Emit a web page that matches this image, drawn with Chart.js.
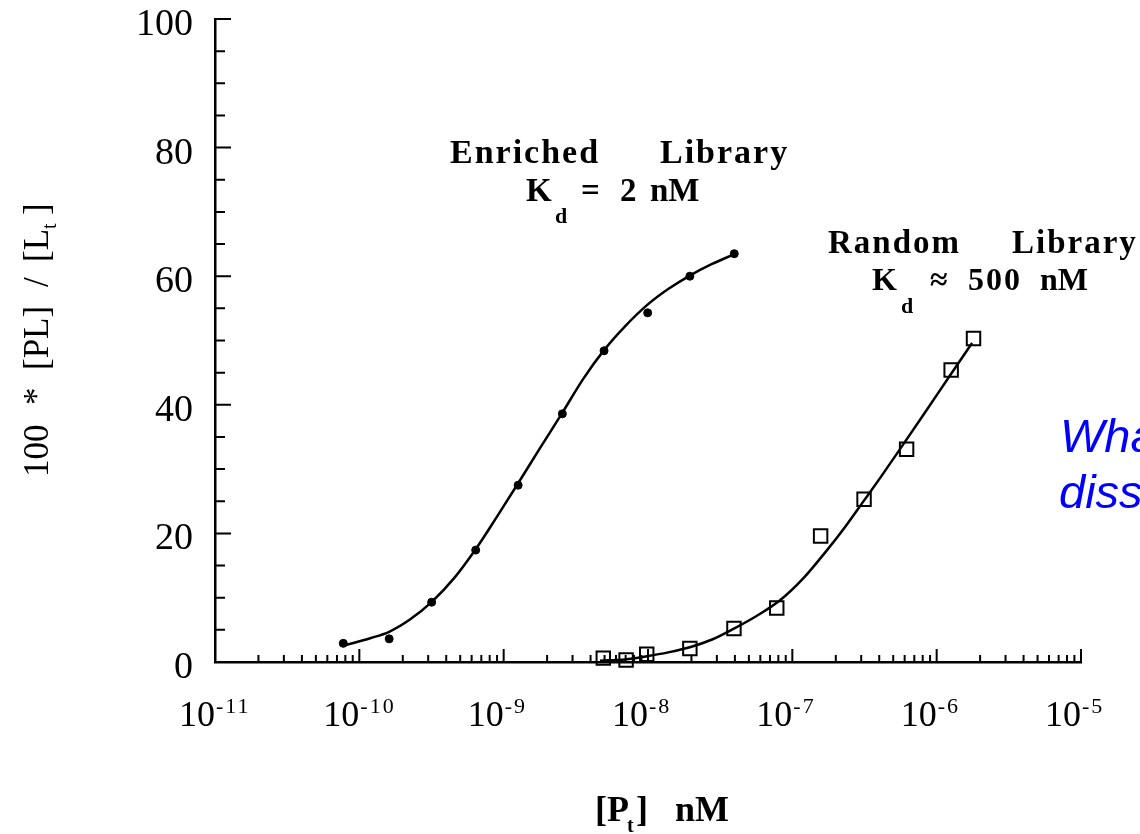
<!DOCTYPE html>
<html><head><meta charset="utf-8">
<script src="https://cdn.jsdelivr.net/npm/chart.js@4.4.1/dist/chart.umd.min.js"></script>
<style>html,body{margin:0;padding:0;background:#fff;}canvas{display:block;}</style>
</head><body>
<canvas id="c" width="1140" height="834"></canvas>
<script>
// ---- data ----
const xTickValues = [1e-11, 1e-10, 1e-9, 1e-8, 1e-7, 1e-6, 1e-5];
const xTickExponents = ['-11', '-10', '-9', '-8', '-7', '-6', '-5'];
const yTickValues = [0, 20, 40, 60, 80, 100];

const enrichedX = [7.74e-11, 1.61e-10, 3.17e-10, 6.40e-10, 1.26e-9, 2.55e-9, 4.96e-9, 9.95e-9, 1.95e-8, 3.96e-8];
const enrichedY = [2.9, 3.6, 9.3, 17.4, 27.5, 38.6, 48.4, 54.3, 60.0, 63.5];

const enrichedFitX = [7.96e-11, 1.19e-10, 1.61e-10, 2.24e-10, 3.19e-10, 4.60e-10, 6.43e-10, 8.99e-10, 1.26e-9, 1.79e-9, 2.54e-9, 3.55e-9, 4.96e-9, 6.93e-9, 9.84e-9, 1.38e-8, 1.95e-8, 2.78e-8, 3.94e-8];
const enrichedFitY = [2.6, 3.7, 4.7, 6.6, 9.4, 13.2, 17.6, 22.6, 27.8, 33.3, 38.7, 44.0, 48.5, 52.2, 55.5, 58.0, 60.1, 61.9, 63.4];

const randomX = [4.90e-9, 7.05e-9, 9.80e-9, 1.95e-8, 3.94e-8, 7.80e-8, 1.57e-7, 3.14e-7, 6.19e-7, 1.26e-6, 1.80e-6];
const randomY = [0.6, 0.3, 1.2, 2.1, 5.2, 8.4, 19.6, 25.3, 33.1, 45.4, 50.3];

const randomFitX = [4.65e-9, 6.93e-9, 9.84e-9, 1.38e-8, 1.95e-8, 2.78e-8, 3.94e-8, 5.69e-8, 8.22e-8, 1.19e-7, 1.74e-7, 2.32e-7, 3.09e-7, 4.05e-7, 5.57e-7, 8.30e-7, 1.24e-6, 1.76e-6];
const randomFitY = [0.2, 0.4, 0.9, 1.5, 2.3, 3.5, 5.2, 7.2, 9.6, 13.0, 17.4, 21.0, 24.9, 28.6, 33.1, 38.8, 44.6, 49.6];

const SERIF = '"Liberation Serif", "DejaVu Serif", serif';
function pts(xs, ys){ return xs.map((v, i) => ({x: v, y: ys[i]})); }

const tickPlugin = {
  id: 'inwardTicks',
  afterDraw(chart){
    const {ctx, chartArea: a, scales: {x, y}} = chart;
    ctx.save();
    ctx.strokeStyle = '#000';
    ctx.lineWidth = 2;
    ctx.beginPath();
    for (let v = 0; v <= 100; v += 5) {
      const py = y.getPixelForValue(v);
      const len = (v % 20 === 0) ? 16 : 10;
      ctx.moveTo(a.left, py); ctx.lineTo(a.left + len, py);
    }
    xTickValues.forEach((d, i) => {
      const px = x.getPixelForValue(d);
      ctx.moveTo(px, a.bottom); ctx.lineTo(px, a.bottom - 13);
      if (i < xTickValues.length - 1) {
        for (let m = 2; m <= 9; m++) {
          const p = x.getPixelForValue(m * d);
          ctx.moveTo(p, a.bottom); ctx.lineTo(p, a.bottom - 7);
        }
      }
    });
    ctx.stroke();

    // exponents of the decade labels
    ctx.fillStyle = '#000';
    ctx.textAlign = 'left';
    ctx.textBaseline = 'alphabetic';
    ctx.font = '22px ' + SERIF;
    ctx.letterSpacing = '2px';
    xTickValues.forEach((d, i) => {
      const px = x.getPixelForValue(d);
      ctx.fillText(xTickExponents[i], px + 1, a.bottom + 51);
    });
    ctx.letterSpacing = '0px';
    ctx.restore();
  }
};

const textPlugin = {
  id: 'texts',
  afterDraw(chart){
    const ctx = chart.ctx;
    ctx.save();
    ctx.fillStyle = '#000';
    ctx.textBaseline = 'alphabetic';
    ctx.textAlign = 'left';

    // Enriched annotation
    ctx.letterSpacing = '2px';
    ctx.font = 'bold 34px ' + SERIF;
    ctx.fillText('Enriched', 450, 163);
    ctx.fillText('Library', 660, 163);
    ctx.letterSpacing = '0px';
    ctx.font = 'bold 33px ' + SERIF;
    ctx.fillText('K', 526, 201);
    ctx.font = 'bold 22px ' + SERIF;
    ctx.fillText('d', 555, 223);
    ctx.font = 'bold 33px ' + SERIF;
    ctx.fillText('=', 581, 201);
    ctx.fillText('2', 620, 201);
    ctx.fillText('nM', 650, 201);

    // Random annotation
    ctx.letterSpacing = '2px';
    ctx.font = 'bold 33px ' + SERIF;
    ctx.fillText('Random', 828, 253);
    ctx.fillText('Library', 1012, 253);
    ctx.letterSpacing = '0px';
    ctx.font = 'bold 32px ' + SERIF;
    ctx.fillText('K', 872, 290);
    ctx.font = 'bold 22px ' + SERIF;
    ctx.fillText('d', 901, 313);
    ctx.font = 'bold 32px ' + SERIF;
    ctx.fillText('\u2248', 930, 290);
    ctx.letterSpacing = '2px';
    ctx.fillText('500', 968, 290);
    ctx.letterSpacing = '0px';
    ctx.fillText('nM', 1040, 290);

    // x-axis title
    ctx.font = 'bold 36px ' + SERIF;
    ctx.fillText('[P', 595, 821);
    ctx.font = 'bold 20px ' + SERIF;
    ctx.fillText('t', 627, 832);
    ctx.font = 'bold 36px ' + SERIF;
    ctx.fillText(']', 636, 821);
    ctx.fillText('nM', 675, 821);

    // y-axis title (rotated)
    ctx.save();
    ctx.translate(48, 477);
    ctx.rotate(-Math.PI / 2);
    ctx.font = '35px ' + SERIF;
    ctx.fillText('100', 0, 0);
    ctx.fillText('*', 72, 0);
    ctx.fillText('[PL]', 107, 0);
    ctx.fillText('/', 190, 0);
    ctx.fillText('[L', 215, 0);
    ctx.font = '20px ' + SERIF;
    ctx.fillText('t', 248, 8);
    ctx.font = '35px ' + SERIF;
    ctx.fillText(']', 262, 0);
    ctx.restore();

    // blue question text (cut off at right edge)
    ctx.fillStyle = '#0000ff';
    ctx.font = 'italic 47px "Liberation Sans", Arial, sans-serif';
    ctx.fillText('What are the', 1060, 452);
    ctx.fillText('dissociation constants?', 1059, 508);
    ctx.restore();
  }
};

new Chart(document.getElementById('c'), {
  type: 'scatter',
  data: {
    datasets: [
      { label: 'Enriched fit', data: pts(enrichedFitX, enrichedFitY), showLine: true,
        borderColor: '#000', borderWidth: 2.5, pointRadius: 0, cubicInterpolationMode: 'monotone', clip: false },
      { label: 'Enriched Library', data: pts(enrichedX, enrichedY), showLine: false,
        pointStyle: 'circle', pointRadius: 4, backgroundColor: '#000', borderColor: '#000', borderWidth: 1, clip: false },
      { label: 'Random fit', data: pts(randomFitX, randomFitY), showLine: true,
        borderColor: '#000', borderWidth: 2.5, pointRadius: 0, cubicInterpolationMode: 'monotone', clip: false },
      { label: 'Random Library', data: pts(randomX, randomY), showLine: false,
        pointStyle: 'rect', pointRadius: 9.5, backgroundColor: 'rgba(255,255,255,0)', borderColor: '#000', borderWidth: 2, clip: false }
    ]
  },
  options: {
    responsive: false,
    animation: false,
    devicePixelRatio: 1,
    layout: { padding: { left: 0, right: 59, top: 19, bottom: 0 } },
    plugins: { legend: { display: false }, tooltip: { enabled: false } },
    scales: {
      x: {
        type: 'logarithmic', min: 1e-11, max: 1e-5,
        grid: { display: false, drawTicks: false },
        border: { display: true, color: '#000', width: 2.5 },
        afterBuildTicks: s => { s.ticks = xTickValues.map(v => ({ value: v })); },
        afterFit: s => { s.height = 172; s.paddingLeft = 0; s.paddingRight = 0; },
        ticks: {
          color: '#000', font: { family: SERIF, size: 36 }, padding: 33,
          maxRotation: 0, autoSkip: false, labelOffset: -18,
          callback: () => '10'
        }
      },
      y: {
        min: 0, max: 100,
        grid: { display: false, drawTicks: false },
        border: { display: true, color: '#000', width: 2.5 },
        afterBuildTicks: s => { s.ticks = yTickValues.map(v => ({ value: v })); },
        afterFit: s => { s.width = 215; s.paddingTop = 0; s.paddingBottom = 0; },
        ticks: { color: '#000', font: { family: SERIF, size: 38 }, padding: 22, labelOffset: 6 }
      }
    }
  },
  plugins: [tickPlugin, textPlugin]
});
</script>
</body></html>
